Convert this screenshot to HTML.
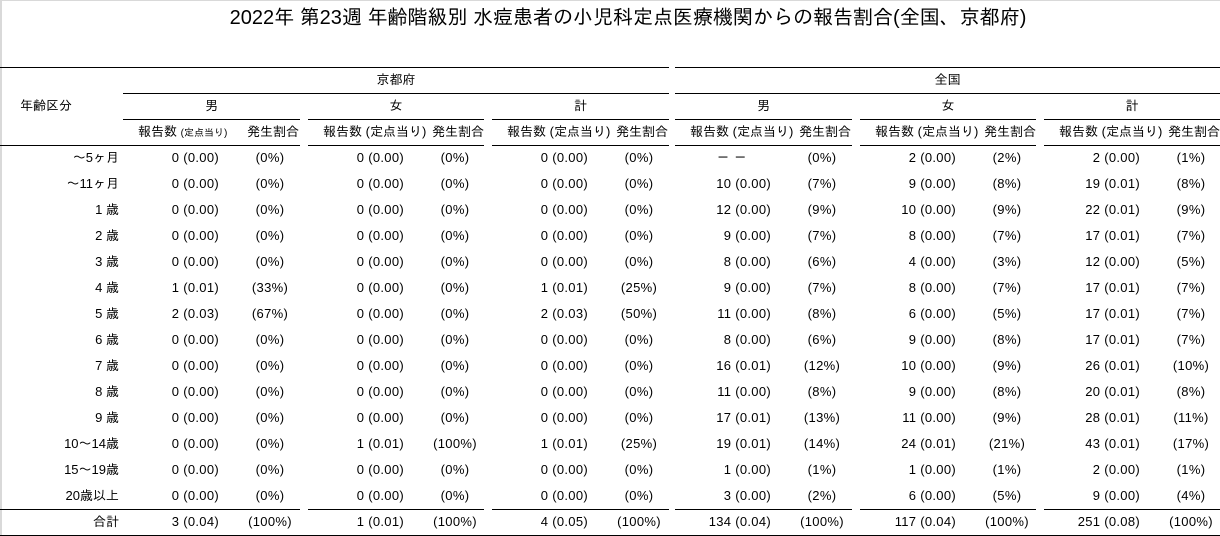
<!DOCTYPE html>
<html><head><meta charset="utf-8">
<style>
html,body{margin:0;padding:0;background:#fff;}
body{width:1220px;height:536px;position:relative;overflow:hidden;font-family:"Liberation Sans","IPAGothic","Noto Sans CJK JP",sans-serif;color:#000;}
.gb{position:absolute;background:#d9d9d9;}
.l{position:absolute;height:1px;background:#000;}
.ttl{position:absolute;top:5px;left:18px;width:1220px;height:26px;line-height:26px;text-align:center;font-size:20px;white-space:nowrap;}
.h{position:absolute;height:26px;line-height:26px;font-size:13px;white-space:nowrap;text-align:center;}
.r{position:absolute;left:0;width:1220px;height:26px;}
.r div{position:absolute;top:0;height:26px;line-height:26px;font-size:13px;white-space:nowrap;}
.a0{left:0;width:119px;text-align:right;}
.c{width:96px;text-align:right;letter-spacing:0.3px;}
.p{width:60px;text-align:center;letter-spacing:0.3px;}
.cA{left:123px}.pA{left:240px}
.cB{left:308px}.pB{left:425px}
.cC{left:492px}.pC{left:609px}
.cD{left:675px}.pD{left:792px}
.cE{left:860px}.pE{left:977px}
.cF{left:1044px}.pF{left:1161px}
.sh{position:absolute;top:119px;height:26px;line-height:26px;font-size:13px;white-space:nowrap;}
.sm{font-size:10px;}
</style></head><body>
<div class="gb" style="left:0;top:0;width:1220px;height:1px;"></div>
<div class="gb" style="left:0;top:0;width:2px;height:536px;"></div>

<div class="ttl">2022年 第23週 年齢階級別 水痘患者の小児科定点医療機関からの報告割合(全国、京都府)</div>

<!-- lines -->
<div class="l" style="top:67px;left:0;width:669px"></div>
<div class="l" style="top:67px;left:675px;width:545px"></div>
<div class="l" style="top:93px;left:123px;width:546px"></div>
<div class="l" style="top:93px;left:675px;width:545px"></div>

<div class="l" style="top:119px;left:123px;width:177px"></div>
<div class="l" style="top:119px;left:308px;width:176px"></div>
<div class="l" style="top:119px;left:492px;width:177px"></div>
<div class="l" style="top:119px;left:675px;width:177px"></div>
<div class="l" style="top:119px;left:860px;width:176px"></div>
<div class="l" style="top:119px;left:1044px;width:176px"></div>

<div class="l" style="top:145px;left:0;width:300px"></div>
<div class="l" style="top:145px;left:308px;width:176px"></div>
<div class="l" style="top:145px;left:492px;width:177px"></div>
<div class="l" style="top:145px;left:675px;width:177px"></div>
<div class="l" style="top:145px;left:860px;width:176px"></div>
<div class="l" style="top:145px;left:1044px;width:176px"></div>

<div class="l" style="top:509px;left:0;width:300px"></div>
<div class="l" style="top:509px;left:308px;width:176px"></div>
<div class="l" style="top:509px;left:492px;width:177px"></div>
<div class="l" style="top:509px;left:675px;width:177px"></div>
<div class="l" style="top:509px;left:860px;width:176px"></div>
<div class="l" style="top:509px;left:1044px;width:176px"></div>

<div class="l" style="top:535px;left:0;width:1220px"></div>

<!-- headers -->
<div class="h" style="top:93px;left:20px;text-align:left;">年齢区分</div>
<div class="h" style="top:67px;left:123px;width:546px;">京都府</div>
<div class="h" style="top:67px;left:675px;width:545px;">全国</div>

<div class="h" style="top:93px;left:123px;width:177px;">男</div>
<div class="h" style="top:93px;left:308px;width:176px;">女</div>
<div class="h" style="top:93px;left:492px;width:177px;">計</div>
<div class="h" style="top:93px;left:675px;width:177px;">男</div>
<div class="h" style="top:93px;left:860px;width:176px;">女</div>
<div class="h" style="top:93px;left:1044px;width:176px;">計</div>

<div class="sh" style="left:138px">報告数 <span class="sm">(定点当り)</span></div>
<div class="sh" style="left:223px;width:76px;text-align:right">発生割合</div>
<div class="sh" style="left:323px">報告数 (定点当り)</div>
<div class="sh" style="left:408px;width:76px;text-align:right">発生割合</div>
<div class="sh" style="left:507px">報告数 (定点当り)</div>
<div class="sh" style="left:592px;width:76px;text-align:right">発生割合</div>
<div class="sh" style="left:690px">報告数 (定点当り)</div>
<div class="sh" style="left:775px;width:76px;text-align:right">発生割合</div>
<div class="sh" style="left:875px">報告数 (定点当り)</div>
<div class="sh" style="left:960px;width:76px;text-align:right">発生割合</div>
<div class="sh" style="left:1059px">報告数 (定点当り)</div>
<div class="sh" style="left:1144px;width:76px;text-align:right">発生割合</div>

<!-- rows -->
<div class="r" style="top:145px">
<div class="a0">～5ヶ月</div>
<div class="c cA">0 (0.00)</div><div class="p pA">(0%)</div>
<div class="c cB">0 (0.00)</div><div class="p pB">(0%)</div>
<div class="c cC">0 (0.00)</div><div class="p pC">(0%)</div>
<div class="c cD" style="width:72px">－ －</div><div class="p pD">(0%)</div>
<div class="c cE">2 (0.00)</div><div class="p pE">(2%)</div>
<div class="c cF">2 (0.00)</div><div class="p pF">(1%)</div>
</div>

<div class="r" style="top:171px">
<div class="a0">～11ヶ月</div>
<div class="c cA">0 (0.00)</div><div class="p pA">(0%)</div>
<div class="c cB">0 (0.00)</div><div class="p pB">(0%)</div>
<div class="c cC">0 (0.00)</div><div class="p pC">(0%)</div>
<div class="c cD">10 (0.00)</div><div class="p pD">(7%)</div>
<div class="c cE">9 (0.00)</div><div class="p pE">(8%)</div>
<div class="c cF">19 (0.01)</div><div class="p pF">(8%)</div>
</div>

<div class="r" style="top:197px">
<div class="a0">1 歳</div>
<div class="c cA">0 (0.00)</div><div class="p pA">(0%)</div>
<div class="c cB">0 (0.00)</div><div class="p pB">(0%)</div>
<div class="c cC">0 (0.00)</div><div class="p pC">(0%)</div>
<div class="c cD">12 (0.00)</div><div class="p pD">(9%)</div>
<div class="c cE">10 (0.00)</div><div class="p pE">(9%)</div>
<div class="c cF">22 (0.01)</div><div class="p pF">(9%)</div>
</div>

<div class="r" style="top:223px">
<div class="a0">2 歳</div>
<div class="c cA">0 (0.00)</div><div class="p pA">(0%)</div>
<div class="c cB">0 (0.00)</div><div class="p pB">(0%)</div>
<div class="c cC">0 (0.00)</div><div class="p pC">(0%)</div>
<div class="c cD">9 (0.00)</div><div class="p pD">(7%)</div>
<div class="c cE">8 (0.00)</div><div class="p pE">(7%)</div>
<div class="c cF">17 (0.01)</div><div class="p pF">(7%)</div>
</div>

<div class="r" style="top:249px">
<div class="a0">3 歳</div>
<div class="c cA">0 (0.00)</div><div class="p pA">(0%)</div>
<div class="c cB">0 (0.00)</div><div class="p pB">(0%)</div>
<div class="c cC">0 (0.00)</div><div class="p pC">(0%)</div>
<div class="c cD">8 (0.00)</div><div class="p pD">(6%)</div>
<div class="c cE">4 (0.00)</div><div class="p pE">(3%)</div>
<div class="c cF">12 (0.00)</div><div class="p pF">(5%)</div>
</div>

<div class="r" style="top:275px">
<div class="a0">4 歳</div>
<div class="c cA">1 (0.01)</div><div class="p pA">(33%)</div>
<div class="c cB">0 (0.00)</div><div class="p pB">(0%)</div>
<div class="c cC">1 (0.01)</div><div class="p pC">(25%)</div>
<div class="c cD">9 (0.00)</div><div class="p pD">(7%)</div>
<div class="c cE">8 (0.00)</div><div class="p pE">(7%)</div>
<div class="c cF">17 (0.01)</div><div class="p pF">(7%)</div>
</div>

<div class="r" style="top:301px">
<div class="a0">5 歳</div>
<div class="c cA">2 (0.03)</div><div class="p pA">(67%)</div>
<div class="c cB">0 (0.00)</div><div class="p pB">(0%)</div>
<div class="c cC">2 (0.03)</div><div class="p pC">(50%)</div>
<div class="c cD">11 (0.00)</div><div class="p pD">(8%)</div>
<div class="c cE">6 (0.00)</div><div class="p pE">(5%)</div>
<div class="c cF">17 (0.01)</div><div class="p pF">(7%)</div>
</div>

<div class="r" style="top:327px">
<div class="a0">6 歳</div>
<div class="c cA">0 (0.00)</div><div class="p pA">(0%)</div>
<div class="c cB">0 (0.00)</div><div class="p pB">(0%)</div>
<div class="c cC">0 (0.00)</div><div class="p pC">(0%)</div>
<div class="c cD">8 (0.00)</div><div class="p pD">(6%)</div>
<div class="c cE">9 (0.00)</div><div class="p pE">(8%)</div>
<div class="c cF">17 (0.01)</div><div class="p pF">(7%)</div>
</div>

<div class="r" style="top:353px">
<div class="a0">7 歳</div>
<div class="c cA">0 (0.00)</div><div class="p pA">(0%)</div>
<div class="c cB">0 (0.00)</div><div class="p pB">(0%)</div>
<div class="c cC">0 (0.00)</div><div class="p pC">(0%)</div>
<div class="c cD">16 (0.01)</div><div class="p pD">(12%)</div>
<div class="c cE">10 (0.00)</div><div class="p pE">(9%)</div>
<div class="c cF">26 (0.01)</div><div class="p pF">(10%)</div>
</div>

<div class="r" style="top:379px">
<div class="a0">8 歳</div>
<div class="c cA">0 (0.00)</div><div class="p pA">(0%)</div>
<div class="c cB">0 (0.00)</div><div class="p pB">(0%)</div>
<div class="c cC">0 (0.00)</div><div class="p pC">(0%)</div>
<div class="c cD">11 (0.00)</div><div class="p pD">(8%)</div>
<div class="c cE">9 (0.00)</div><div class="p pE">(8%)</div>
<div class="c cF">20 (0.01)</div><div class="p pF">(8%)</div>
</div>

<div class="r" style="top:405px">
<div class="a0">9 歳</div>
<div class="c cA">0 (0.00)</div><div class="p pA">(0%)</div>
<div class="c cB">0 (0.00)</div><div class="p pB">(0%)</div>
<div class="c cC">0 (0.00)</div><div class="p pC">(0%)</div>
<div class="c cD">17 (0.01)</div><div class="p pD">(13%)</div>
<div class="c cE">11 (0.00)</div><div class="p pE">(9%)</div>
<div class="c cF">28 (0.01)</div><div class="p pF">(11%)</div>
</div>

<div class="r" style="top:431px">
<div class="a0">10～14歳</div>
<div class="c cA">0 (0.00)</div><div class="p pA">(0%)</div>
<div class="c cB">1 (0.01)</div><div class="p pB">(100%)</div>
<div class="c cC">1 (0.01)</div><div class="p pC">(25%)</div>
<div class="c cD">19 (0.01)</div><div class="p pD">(14%)</div>
<div class="c cE">24 (0.01)</div><div class="p pE">(21%)</div>
<div class="c cF">43 (0.01)</div><div class="p pF">(17%)</div>
</div>

<div class="r" style="top:457px">
<div class="a0">15～19歳</div>
<div class="c cA">0 (0.00)</div><div class="p pA">(0%)</div>
<div class="c cB">0 (0.00)</div><div class="p pB">(0%)</div>
<div class="c cC">0 (0.00)</div><div class="p pC">(0%)</div>
<div class="c cD">1 (0.00)</div><div class="p pD">(1%)</div>
<div class="c cE">1 (0.00)</div><div class="p pE">(1%)</div>
<div class="c cF">2 (0.00)</div><div class="p pF">(1%)</div>
</div>

<div class="r" style="top:483px">
<div class="a0">20歳以上</div>
<div class="c cA">0 (0.00)</div><div class="p pA">(0%)</div>
<div class="c cB">0 (0.00)</div><div class="p pB">(0%)</div>
<div class="c cC">0 (0.00)</div><div class="p pC">(0%)</div>
<div class="c cD">3 (0.00)</div><div class="p pD">(2%)</div>
<div class="c cE">6 (0.00)</div><div class="p pE">(5%)</div>
<div class="c cF">9 (0.00)</div><div class="p pF">(4%)</div>
</div>

<div class="r" style="top:509px">
<div class="a0">合計</div>
<div class="c cA">3 (0.04)</div><div class="p pA">(100%)</div>
<div class="c cB">1 (0.01)</div><div class="p pB">(100%)</div>
<div class="c cC">4 (0.05)</div><div class="p pC">(100%)</div>
<div class="c cD">134 (0.04)</div><div class="p pD">(100%)</div>
<div class="c cE">117 (0.04)</div><div class="p pE">(100%)</div>
<div class="c cF">251 (0.08)</div><div class="p pF">(100%)</div>
</div>

</body></html>
